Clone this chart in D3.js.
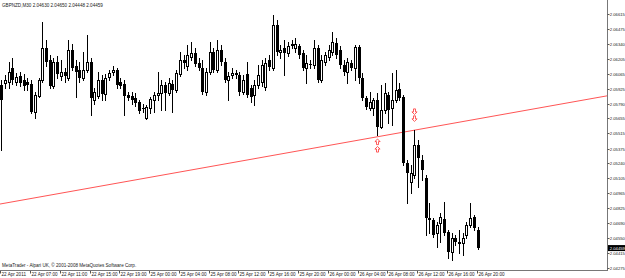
<!DOCTYPE html>
<html>

<head>
    <meta charset="utf-8">
    <!-- Load d3.js -->
    <script src="https://cdn.jsdelivr.net/npm/d3@7/dist/d3.min.js"></script>
    <style>
        body { margin: 0; background: #fff; }
        svg { display: block; }
        text { font-family: "Liberation Sans", Arial, sans-serif; }
    </style>
</head>

<body>
    <div id="my_dataviz"></div>
    <script>

        // GBPNZD M30 bars, oldest first
        var opens = [
            2.05961, 2.05980, 2.05989, 2.06118, 2.05989, 2.06044, 2.06007, 2.05989, 2.05970, 2.05712,
            2.05860, 2.06007, 2.06302, 2.06191, 2.05952, 2.06173, 2.06044, 2.06081, 2.06026, 2.06283,
            2.06136, 2.06099, 2.06026, 2.06099, 2.06173, 2.05823, 2.05860, 2.06007, 2.05878, 2.06035,
            2.06081, 2.06099, 2.05989, 2.05970, 2.05869, 2.05860, 2.05841, 2.05805, 2.05749, 2.05657,
            2.05749, 2.05823, 2.05869, 2.05887, 2.05961, 2.05887, 2.05970, 2.05915, 2.06062, 2.06191,
            2.06136, 2.06219, 2.06256, 2.06164, 2.06118, 2.05897, 2.06081, 2.06265, 2.06099, 2.06283,
            2.06173, 2.06007, 2.06053, 2.06072, 2.06053, 2.05897, 2.06062, 2.05934, 2.05869, 2.05961,
            2.05989, 2.05943, 2.06191, 2.06118, 2.06514, 2.06265, 2.06302, 2.06256, 2.06330, 2.06302,
            2.06320, 2.06256, 2.06118, 2.06155, 2.06145, 2.06302, 2.06007, 2.06173, 2.06219, 2.06265,
            2.06348, 2.06283, 2.06145, 2.06081, 2.06164, 2.06118, 2.06311, 2.06026, 2.05841, 2.05749,
            2.05749, 2.05823, 2.05574, 2.05731, 2.05869, 2.05749, 2.05823, 2.05924, 2.05851, 2.05243,
            2.05068, 2.05132, 2.05409, 2.05270, 2.05105, 2.04736, 2.04718, 2.04598, 2.04690, 2.04727,
            2.04607, 2.04423, 2.04552, 2.04506, 2.04506, 2.04580, 2.04672, 2.04745, 2.04630
        ];
        var highs = [
            2.06007, 2.06053, 2.06173, 2.06210, 2.06072, 2.06081, 2.06062, 2.06026, 2.06007, 2.05897,
            2.06026, 2.06541, 2.06376, 2.06237, 2.06210, 2.06228, 2.06191, 2.06118, 2.06376, 2.06339,
            2.06191, 2.06173, 2.06265, 2.06422, 2.06210, 2.05934, 2.06081, 2.06053, 2.06062, 2.06099,
            2.06136, 2.06118, 2.06026, 2.06007, 2.05897, 2.05897, 2.05887, 2.05823, 2.05786, 2.05777,
            2.05851, 2.05897, 2.06081, 2.06007, 2.05989, 2.06026, 2.06007, 2.06099, 2.06265, 2.06237,
            2.06330, 2.06357, 2.06302, 2.06210, 2.06191, 2.06118, 2.06357, 2.06302, 2.06376, 2.06330,
            2.06210, 2.06081, 2.06118, 2.06099, 2.06081, 2.06053, 2.06173, 2.05961, 2.06007, 2.06145,
            2.06191, 2.06210, 2.06237, 2.06606, 2.06560, 2.06330, 2.06376, 2.06357, 2.06376, 2.06394,
            2.06339, 2.06283, 2.06237, 2.06191, 2.06376, 2.06330, 2.06237, 2.06265, 2.06330, 2.06449,
            2.06394, 2.06320, 2.06191, 2.06210, 2.06191, 2.06330, 2.06330, 2.06072, 2.05860, 2.05897,
            2.05841, 2.05887, 2.05961, 2.05980, 2.05897, 2.06072, 2.06099, 2.05980, 2.05869, 2.05270,
            2.05224, 2.05547, 2.05455, 2.05316, 2.05132, 2.04874, 2.04736, 2.04699, 2.04782, 2.04884,
            2.04626, 2.04598, 2.04580, 2.04626, 2.04598, 2.04699, 2.04874, 2.04764, 2.04650
        ];
        var lows = [
            2.05362, 2.05934, 2.05934, 2.05970, 2.05961, 2.05952, 2.05915, 2.05915, 2.05703, 2.05657,
            2.05851, 2.05989, 2.06136, 2.05934, 2.05934, 2.06026, 2.06007, 2.05989, 2.06007, 2.06099,
            2.05851, 2.05989, 2.06007, 2.06081, 2.05685, 2.05786, 2.05841, 2.05823, 2.05823, 2.06007,
            2.06053, 2.05934, 2.05934, 2.05685, 2.05823, 2.05786, 2.05768, 2.05703, 2.05712, 2.05648,
            2.05703, 2.05712, 2.05823, 2.05731, 2.05731, 2.05869, 2.05712, 2.05897, 2.06044, 2.06118,
            2.06099, 2.06191, 2.06136, 2.06099, 2.05878, 2.05869, 2.06062, 2.06081, 2.06081, 2.06145,
            2.05989, 2.05823, 2.06026, 2.06026, 2.05869, 2.05878, 2.05851, 2.05805, 2.05777, 2.05934,
            2.05952, 2.05915, 2.06099, 2.06099, 2.06237, 2.06210, 2.06053, 2.06228, 2.06302, 2.06265,
            2.06210, 2.06099, 2.05980, 2.06118, 2.06118, 2.05989, 2.05989, 2.06145, 2.06191, 2.06237,
            2.06210, 2.06118, 2.06053, 2.05980, 2.06099, 2.06007, 2.05980, 2.05823, 2.05740, 2.05731,
            2.05685, 2.05501, 2.05565, 2.05703, 2.05611, 2.05593, 2.05805, 2.05823, 2.05224, 2.04874,
            2.04966, 2.05105, 2.05022, 2.05086, 2.04580, 2.04598, 2.04561, 2.04469, 2.04515, 2.04580,
            2.04368, 2.04349, 2.04488, 2.04414, 2.04395, 2.04552, 2.04653, 2.04626, 2.04448
        ];
        var closes = [
            2.05823, 2.06007, 2.06081, 2.06007, 2.06035, 2.05980, 2.05952, 2.05961, 2.05712, 2.05869,
            2.06007, 2.06302, 2.06173, 2.05952, 2.06173, 2.06062, 2.06081, 2.06044, 2.06283, 2.06118,
            2.06081, 2.06026, 2.06099, 2.06173, 2.05841, 2.05897, 2.06007, 2.05878, 2.06026, 2.06072,
            2.06099, 2.05961, 2.05952, 2.05860, 2.05841, 2.05823, 2.05795, 2.05722, 2.05740, 2.05759,
            2.05832, 2.05869, 2.05887, 2.05961, 2.05887, 2.05980, 2.05915, 2.06072, 2.06191, 2.06164,
            2.06237, 2.06256, 2.06155, 2.06118, 2.05897, 2.06081, 2.06265, 2.06099, 2.06283, 2.06173,
            2.06007, 2.06044, 2.06072, 2.06053, 2.05897, 2.06007, 2.05869, 2.05851, 2.05961, 2.06053,
            2.06145, 2.06164, 2.06127, 2.06514, 2.06265, 2.06283, 2.06256, 2.06320, 2.06339, 2.06339,
            2.06237, 2.06118, 2.06164, 2.06145, 2.06302, 2.06007, 2.06191, 2.06237, 2.06283, 2.06357,
            2.06237, 2.06145, 2.06081, 2.06173, 2.06118, 2.06311, 2.06026, 2.05841, 2.05759, 2.05805,
            2.05823, 2.05574, 2.05731, 2.05887, 2.05731, 2.05823, 2.05915, 2.05841, 2.05243, 2.05151,
            2.05151, 2.05409, 2.05289, 2.05178, 2.04736, 2.04718, 2.04580, 2.04672, 2.04745, 2.04598,
            2.04423, 2.04552, 2.04515, 2.04515, 2.04552, 2.04672, 2.04736, 2.04644, 2.04459
        ];

        // time scale labels, one every 8 bars
        var timeLabels = ["22 Apr 2011", "22 Apr 07:00", "22 Apr 11:00", "22 Apr 15:00", "22 Apr 19:00",
            "25 Apr 00:00", "25 Apr 04:00", "25 Apr 08:00", "25 Apr 12:00", "25 Apr 16:00", "25 Apr 20:00",
            "26 Apr 00:00", "26 Apr 04:00", "26 Apr 08:00", "26 Apr 12:00", "26 Apr 16:00", "26 Apr 20:00"];
        var labelEvery = 8;

        // price scale labels
        var priceTicks = [2.06615, 2.06475, 2.06340, 2.06205, 2.06065, 2.05925, 2.05790, 2.05655, 2.05515,
            2.05375, 2.05240, 2.05105, 2.04965, 2.04825, 2.04690, 2.04550, 2.04415, 2.04275];

        // trend line anchors (bar index, price)
        var trendBars = [0, 128];
        var trendPrices = [2.04865, 2.05647];

        // signal arrows
        var signalBars = [101, 101, 111, 111];
        var signalPrices = [2.05436, 2.05367, 2.05717, 2.05653];
        var signalDirs = ["up", "up", "down", "down"];

        var symbol = "GBPNZD,M30";

        // set the dimensions
        var W = 625, H = 278,
            axisX = 607, axisY = 270;

        var svg = d3.select("#my_dataviz")
            .append("svg")
            .attr("width", W)
            .attr("height", H)
            .style("background", "#fff");

        var x = d3.scaleLinear()
            .domain([0, 128])
            .range([0.3, 476.6]);
        var y = d3.scaleLinear()
            .domain([2.04257, 2.06744])
            .range([axisY, 0]);

        var bars = opens.map(function (o, i) {
            return { i: i, o: o, h: highs[i], l: lows[i], c: closes[i] };
        });

        var plot = svg.append("g");

        // trend line (ray over the whole chart width)
        var slope = (trendPrices[1] - trendPrices[0]) / (trendBars[1] - trendBars[0]);
        var b0 = x.invert(0), b1 = x.invert(axisX);
        plot.append("line")
            .attr("x1", x(b0))
            .attr("y1", y(trendPrices[0] + slope * (b0 - trendBars[0])))
            .attr("x2", x(b1))
            .attr("y2", y(trendPrices[0] + slope * (b1 - trendBars[0])))
            .attr("stroke", "#f55")
            .attr("stroke-width", 1);

        // candles
        var candle = plot.selectAll("g.bar")
            .data(bars)
            .enter().append("g")
            .attr("class", "bar");

        candle.append("line")
            .attr("x1", function (d) { return Math.round(x(d.i)) + 1.5; })
            .attr("x2", function (d) { return Math.round(x(d.i)) + 1.5; })
            .attr("y1", function (d) { return Math.round(y(d.h)); })
            .attr("y2", function (d) { return Math.round(y(d.l)) + 1; })
            .attr("stroke", "#000")
            .attr("stroke-width", 1);

        candle.append("rect")
            .attr("x", function (d) { return Math.round(x(d.i)) + (d.c > d.o ? 0.5 : 0); })
            .attr("y", function (d) { return Math.round(y(Math.max(d.o, d.c))) + (d.c > d.o ? 0.5 : 0); })
            .attr("width", function (d) { return d.c > d.o ? 2 : 3; })
            .attr("height", function (d) {
                var h = Math.round(y(Math.min(d.o, d.c))) - Math.round(y(Math.max(d.o, d.c)));
                return Math.max(h, 1);
            })
            .attr("fill", function (d) { return d.c > d.o ? "#fff" : "#000"; })
            .attr("stroke", function (d) { return d.c > d.o ? "#000" : "none"; })
            .attr("stroke-width", 1);

        // signal arrows
        var arrowUp = "M0,-3L2.6,-0.4L1,-0.4L1,2.6L-1,2.6L-1,-0.4L-2.6,-0.4Z";
        var arrowDown = "M0,3L2.6,0.4L1,0.4L1,-2.6L-1,-2.6L-1,0.4L-2.6,0.4Z";
        plot.selectAll("path.sig")
            .data(signalBars)
            .enter().append("path")
            .attr("class", "sig")
            .attr("d", function (d, i) { return signalDirs[i] == "up" ? arrowUp : arrowDown; })
            .attr("transform", function (d, i) {
                return "translate(" + (Math.round(x(d)) + 1.5) + "," + y(signalPrices[i]) + ")";
            })
            .attr("fill", "#fff")
            .attr("stroke", "#f33")
            .attr("stroke-width", 0.8);

        // axes frame
        svg.append("line")
            .attr("x1", axisX + 0.5).attr("x2", axisX + 0.5)
            .attr("y1", 0).attr("y2", axisY + 1)
            .attr("stroke", "#777");
        svg.append("line")
            .attr("x1", 0).attr("x2", axisX + 1)
            .attr("y1", axisY + 0.5).attr("y2", axisY + 0.5)
            .attr("stroke", "#777");

        // price scale
        var pt = svg.append("g").selectAll("g")
            .data(priceTicks)
            .enter().append("g")
            .attr("transform", function (d) { return "translate(0," + (Math.round(y(d)) + 0.5) + ")"; });
        pt.append("line")
            .attr("x1", axisX + 0.5).attr("x2", axisX + 2.5)
            .attr("stroke", "#555");
        pt.append("text")
            .attr("x", axisX + 2.8)
            .attr("dy", "0.35em")
            .style("font-size", "4.2px")
            .attr("fill", "#222")
            .text(function (d) { return d.toFixed(5); });

        // current price marker
        var last = closes[closes.length - 1];
        svg.append("rect")
            .attr("x", axisX + 1)
            .attr("y", y(last) - 3)
            .attr("width", 18)
            .attr("height", 6)
            .attr("fill", "#000");
        svg.append("text")
            .attr("x", axisX + 2.8)
            .attr("y", y(last))
            .attr("dy", "0.35em")
            .style("font-size", "4.2px")
            .attr("fill", "#fff")
            .text(last.toFixed(5));

        // time scale
        var tt = svg.append("g").selectAll("g")
            .data(timeLabels)
            .enter().append("g")
            .attr("transform", function (d, i) { return "translate(" + (Math.round(x(i * labelEvery)) + 0.5) + ",0)"; });
        tt.append("line")
            .attr("y1", axisY + 1).attr("y2", axisY + 3.5)
            .attr("stroke", "#555");
        tt.append("text")
            .attr("x", 1)
            .attr("y", 275.5)
            .style("font-size", "4.6px")
            .attr("fill", "#222")
            .text(function (d) { return d; });

        // header with last bar OHLC
        var n = opens.length - 1;
        svg.append("text")
            .attr("x", 2)
            .attr("y", 6.5)
            .style("font-size", "4.6px")
            .attr("fill", "#222")
            .text(symbol + " " + opens[n].toFixed(5) + " " + highs[n].toFixed(5) + " " + lows[n].toFixed(5) + " " + closes[n].toFixed(5));

        svg.append("text")
            .attr("x", 2)
            .attr("y", 266.5)
            .style("font-size", "4.6px")
            .attr("fill", "#222")
            .text("MetaTrader - Alpari UK, \u00a9 2001-2008 MetaQuotes Software Corp.");

    </script>
</body>

</html>
